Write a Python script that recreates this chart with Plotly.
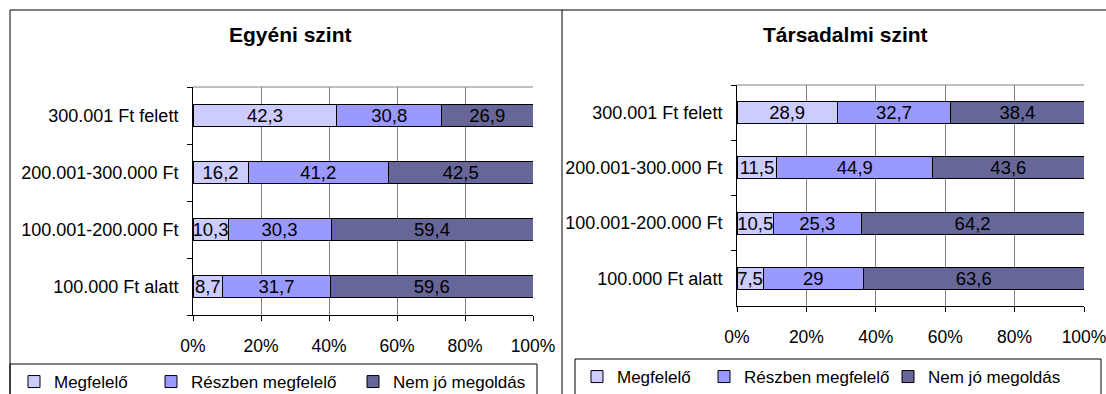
import plotly.graph_objects as go

# ---- data ----
categories = ["100.000 Ft alatt", "100.001-200.000 Ft", "200.001-300.000 Ft", "300.001 Ft felett"]
series_names = ["Megfelelő", "Részben megfelelő", "Nem jó megoldás"]

egyeni_megfelelo = [8.7, 10.3, 16.2, 42.3]
egyeni_reszben = [31.7, 30.3, 41.2, 30.8]
egyeni_nemjo = [59.6, 59.4, 42.5, 26.9]

tarsadalmi_megfelelo = [7.5, 10.5, 11.5, 28.9]
tarsadalmi_reszben = [29, 25.3, 44.9, 32.7]
tarsadalmi_nemjo = [63.6, 64.2, 43.6, 38.4]

x_tickvals = [0, 20, 40, 60, 80, 100]
x_ticktext = ["0%", "20%", "40%", "60%", "80%", "100%"]
panel_titles = ["Egyéni szint", "Társadalmi szint"]

# ---- layout helpers (positions in picture pixels) ----
W, H = 1106, 394
FONT = "Liberation Sans, Arial, sans-serif"
colors = ["#CCCCFF", "#9999FF", "#666699"]


def fx(px):
    return px / W


def fy(py):
    return 1 - py / H


def fmt(v):
    return f"{v:g}".replace(".", ",")


fig = go.Figure()

panels = [
    dict(vals=[egyeni_megfelelo, egyeni_reszben, egyeni_nemjo], xa="x", ya="y",
         legends=["legend", "legend2", "legend3"]),
    dict(vals=[tarsadalmi_megfelelo, tarsadalmi_reszben, tarsadalmi_nemjo], xa="x2", ya="y2",
         legends=["legend4", "legend5", "legend6"]),
]

for p in panels:
    for name, vals, col, lg in zip(series_names, p["vals"], colors, p["legends"]):
        fig.add_trace(go.Bar(
            y=categories, x=vals, orientation="h", name=name,
            marker=dict(color=col, line=dict(color="black", width=1)),
            text=[fmt(v) for v in vals], textposition="inside",
            insidetextanchor="middle", textangle=0,
            textfont=dict(family=FONT, size=18.5, color="black"),
            constraintext="none", cliponaxis=False,
            xaxis=p["xa"], yaxis=p["ya"], legend=lg, hoverinfo="skip",
            showlegend=True,
        ))

axis_common_x = dict(
    range=[0, 100], tickvals=x_tickvals, ticktext=x_ticktext,
    showgrid=True, gridcolor="#808080", gridwidth=1,
    showline=True, linecolor="black", linewidth=1,
    ticks="outside", ticklen=5, tickcolor="black", tickwidth=1,
    zeroline=False, fixedrange=True, ticklabelstandoff=10, automargin=False,
    ticklabeloverflow="allow",
    tickfont=dict(family=FONT, size=17.5, color="black"),
)
axis_common_y = dict(
    type="category", showgrid=False, showline=True, linecolor="black", linewidth=1,
    ticks="outside", tickson="boundaries", ticklen=5, tickcolor="black", tickwidth=1,
    zeroline=False, fixedrange=True, ticklabelstandoff=10, automargin=False,
    tickfont=dict(family=FONT, size=18, color="black"),
)

fig.update_layout(
    width=W, height=H, margin=dict(l=0, r=0, t=0, b=0, autoexpand=False),
    paper_bgcolor="white", plot_bgcolor="white",
    barmode="stack", barnorm="percent", bargap=0.6,
    showlegend=True,
    uniformtext=dict(mode="show", minsize=18.5),
    xaxis=dict(domain=[fx(193), fx(533)], anchor="y", **axis_common_x),
    yaxis=dict(domain=[fy(315), fy(87)], anchor="x", **axis_common_y),
    xaxis2=dict(domain=[fx(737), fx(1084)], anchor="y2", **axis_common_x),
    yaxis2=dict(domain=[fy(306), fy(85)], anchor="x2", **axis_common_y),
    font=dict(family=FONT, color="black"),
)

# legends: one per entry, placed like the original
legend_pos = {
    "legend": (14, 382), "legend2": (151, 382), "legend3": (353, 382),
    "legend4": (577, 377), "legend5": (704, 377), "legend6": (888, 377),
}
for key, (lx, ly) in legend_pos.items():
    fig.update_layout({key: dict(
        x=fx(lx), y=fy(ly), xanchor="left", yanchor="middle", orientation="h",
        bgcolor="rgba(0,0,0,0)", borderwidth=0, visible=True,
        font=dict(family=FONT, size=17, color="black"),
    )})

shapes = []
line_k = dict(color="black", width=1)
# panel frames
shapes.append(dict(type="line", xref="paper", yref="paper", x0=fx(10), x1=fx(1110), y0=fy(10), y1=fy(10), line=line_k))
shapes.append(dict(type="line", xref="paper", yref="paper", x0=fx(10), x1=fx(10), y0=fy(10), y1=fy(400), line=line_k))
shapes.append(dict(type="line", xref="paper", yref="paper", x0=fx(562), x1=fx(562), y0=fy(10), y1=fy(400), line=line_k))
# legend boxes
shapes.append(dict(type="rect", xref="paper", yref="paper", x0=fx(10), x1=fx(537), y0=fy(402), y1=fy(364), line=line_k))
shapes.append(dict(type="rect", xref="paper", yref="paper", x0=fx(575), x1=fx(1101), y0=fy(402), y1=fy(359), line=line_k))
# gray top border of plot areas
for xr, yr in (("x domain", "y domain"), ("x2 domain", "y2 domain")):
    shapes.append(dict(type="line", xref=xr, yref=yr, x0=0, x1=1, y0=1, y1=1,
                       line=dict(color="#808080", width=1)))
fig.update_layout(shapes=shapes)

for title, cx in zip(panel_titles, (290, 845)):
    fig.add_annotation(text=title, x=fx(cx), y=fy(34), xref="paper", yref="paper",
                       showarrow=False, xanchor="center", yanchor="middle",
                       font=dict(family=FONT, size=21, color="black", weight="bold"))

fig.write_html("out.html", config=dict(displayModeBar=False),
               post_script="document.body.style.margin='0';")
